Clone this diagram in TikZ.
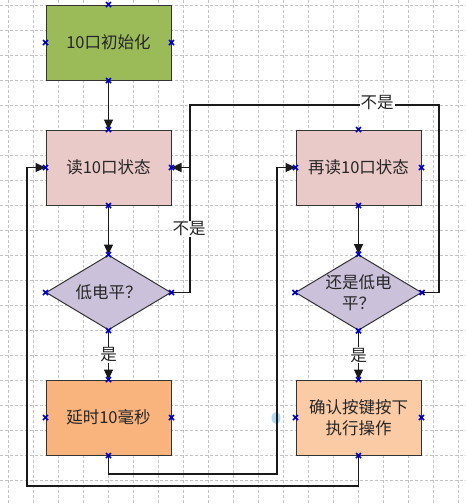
\documentclass[tikz,border=0pt]{standalone}
\usepackage{fontspec}
\newfontfamily\cjk{Noto Sans CJK SC}
\usetikzlibrary{shapes.geometric,arrows.meta}
\definecolor{gridc}{HTML}{C4C4C4}
\definecolor{initc}{HTML}{9BBB59}
\definecolor{readc}{HTML}{EACAC8}
\definecolor{decc}{HTML}{CCC1DA}
\definecolor{delayc}{HTML}{F9B37D}
\definecolor{confc}{HTML}{FBCBA5}
\definecolor{markc}{HTML}{0000C8}
\definecolor{linec}{HTML}{1A1A1A}
\tikzset{
  txt/.style={font=\cjk\fontsize{16.5}{21}\selectfont, text=black!85},
  box/.style={txt, draw=black!80, line width=1pt, minimum width=125pt, minimum height=75pt, inner sep=0pt, align=center},
  dec/.style={txt, diamond, draw=black!80, line width=1pt, fill=decc, minimum width=125pt, minimum height=75pt, inner sep=0pt, align=center, aspect=1.667},
  conn/.style={draw=linec, line width=1.1pt},
  arr/.style={conn, -{Triangle[length=10pt,width=9pt]}},
  lab/.style={txt, fill=white, inner sep=1pt},
  cross/.style={draw=markc, line width=1.6pt}
}
\begin{document}
\begin{tikzpicture}[x=1pt,y=-1pt]
\useasboundingbox (0,0) rectangle (466,504);
\fill[white] (0,0) rectangle (466,504);
% grid
\foreach \i in {0,...,18} \draw[gridc, line width=0.6pt, dash pattern=on 3pt off 2pt] (8+25*\i,0) -- (8+25*\i,504);
\foreach \j in {0,...,19} \draw[gridc, line width=0.6pt, dash pattern=on 3pt off 2pt] (0,5+25*\j) -- (466,5+25*\j);
% light blue blob
\fill[color={rgb,255:red,180;green,218;blue,244}] (276,418) ellipse (4.5pt and 6pt);
% nodes
\node[box, fill=initc] (init) at (108.5,42.5) {10口初始化};
\node[box, fill=readc] (read) at (108.5,167.5) {读10口状态};
\node[dec] (d1) at (108.5,292.5) {低电平？};
\node[box, fill=delayc] (delay) at (108.5,417.5) {延时10毫秒};
\node[box, fill=readc] (reread) at (358.5,167.5) {再读10口状态};
\node[dec] (d2) at (358.5,292.5) {还是低电\\平？};
\node[box, fill=confc] (confirm) at (358.5,417.5) {确认按键按下\\执行操作};
% junction coordinates
\coordinate (j1) at (190,167.5);
\coordinate (t1) at (190,105);
\coordinate (t2) at (439,105);
\coordinate (b1) at (277,474);
\coordinate (b2) at (27,486);
% connectors
\draw[arr] (init.south) -- (read.north);
\draw[arr] (read.south) -- (d1.north);
\draw[arr] (d1.south) -- node[lab] (y1) {是} (delay.north);
\draw[arr] (reread.south) -- (d2.north);
\draw[arr] (d2.south) -- node[lab] (y2) {是} (confirm.north);
\draw[arr] (d1.east) -| (j1) -- (read.east);
\node[lab] (n1) at (189,229) {不是};
\draw[conn] (d2.east) -| (t2) -- (t1) -- (j1);
\node[lab] (n2) at (377,103) {不是};
\draw[arr] (delay.south) |- (b1) |- (reread.west);
\draw[arr] (confirm.south) |- (b2) |- (read.west);
% connection markers
\foreach \n in {init,read,d1,delay,reread,d2,confirm}
  \foreach \a in {north,south,east,west}
    \draw[cross] ([shift={(-2.5,-2.5)}]\n.\a) -- ++(5,5) ([shift={(-2.5,2.5)}]\n.\a) -- ++(5,-5);
\end{tikzpicture}
\end{document}
